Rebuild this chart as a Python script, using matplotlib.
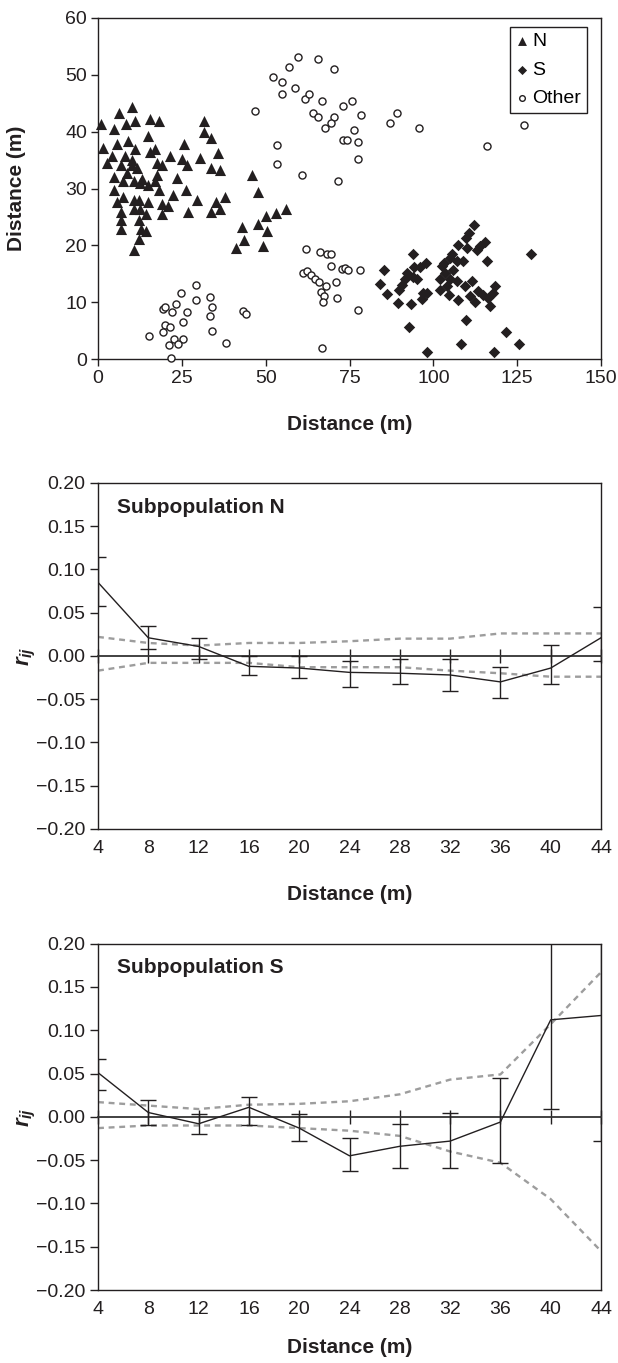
import numpy as np
import matplotlib.pyplot as plt

plt.rcParams['font.family'] = ['Liberation Sans', 'DejaVu Sans']
plt.rcParams['mathtext.fontset'] = 'custom'
plt.rcParams['mathtext.it'] = 'Liberation Sans:italic:bold'
plt.rcParams['mathtext.rm'] = 'Liberation Sans:bold'

# ---- spatial positions (m) ----
n_x = [10.0, 6.3, 0.8, 4.8, 8.3, 10.9, 15.5, 18.2, 31.7, 31.7, 33.7, 14.9, 1.4, 5.6, 8.9,
       10.9, 4.2, 8.1, 10.0, 15.5, 17.0, 21.5, 25.0, 25.7, 30.4, 35.7, 2.8, 6.9, 10.2, 11.5,
       17.5, 19.0, 26.5, 33.7, 36.4, 45.8, 4.9, 8.6, 17.5, 23.7, 13.2, 7.5, 10.8, 12.5, 15.0,
       17.0, 18.3, 22.3, 26.2, 29.6, 35.2, 37.8, 4.8, 7.5, 5.6, 10.8, 12.2, 15.0, 19.0, 21.0,
       10.8, 12.5, 6.9, 14.3, 19.0, 26.9, 33.7, 36.4, 6.9, 12.2, 12.8, 14.3, 6.9, 12.2, 10.8,
       47.8, 43.0, 43.6, 41.1, 49.1, 47.8, 50.1, 50.3, 53.0, 56.1]
n_y = [44.3, 43.3, 41.3, 40.5, 41.3, 41.8, 42.2, 41.8, 41.8, 39.9, 38.8, 39.2, 37.1, 37.9, 38.3,
       37.0, 35.8, 35.8, 35.1, 36.4, 37.0, 35.8, 35.2, 37.9, 35.4, 36.2, 34.5, 34.1, 34.1, 33.6,
       34.5, 34.1, 34.1, 33.6, 33.2, 32.4, 32.1, 32.7, 32.4, 31.9, 31.6, 31.4, 31.4, 31.0, 30.7,
       31.4, 29.7, 28.9, 29.7, 27.9, 27.6, 28.5, 29.7, 28.5, 27.6, 27.9, 27.9, 27.6, 27.3, 26.9,
       26.4, 26.4, 25.9, 25.6, 25.6, 25.9, 25.9, 26.4, 24.5, 24.5, 22.8, 22.6, 22.9, 21.1, 19.1,
       29.3, 23.3, 20.9, 19.5, 19.9, 23.8, 25.2, 22.6, 25.7, 26.4]

s_x = [112.2, 110.5, 109.8, 115.4, 113.9, 112.9, 107.5, 110.0, 129.0, 94.0, 115.9, 105.7, 104.9,
       103.2, 107.2, 108.9, 97.8, 96.0, 94.2, 85.4, 92.1, 93.9, 95.2, 91.6, 84.1, 90.6, 102.5,
       103.5, 106.0, 104.9, 102.0, 107.2, 109.4, 111.4, 118.4, 89.9, 86.1, 97.0, 98.2, 96.5,
       104.8, 107.5, 110.9, 112.4, 114.9, 116.4, 117.9, 116.9, 89.5, 93.4, 92.8, 109.7, 121.6,
       108.2, 125.6, 98.2, 118.2, 102.0, 104.0, 113.4]
s_y = [23.5, 22.2, 21.3, 20.5, 19.8, 19.2, 20.1, 19.5, 18.4, 18.4, 17.2, 18.5, 17.8,
       16.9, 17.2, 17.2, 16.9, 16.2, 16.2, 15.6, 15.1, 14.5, 14.0, 14.0, 13.2, 13.1, 16.3,
       15.1, 15.7, 14.0, 14.1, 13.7, 12.8, 13.7, 12.9, 12.2, 11.4, 11.6, 11.7, 10.6,
       11.3, 10.4, 11.1, 10.1, 11.3, 10.7, 11.6, 9.4, 9.9, 9.7, 5.6, 6.9, 4.7,
       2.6, 2.6, 1.2, 1.2, 12.2, 12.8, 11.9]

o_x = [59.5, 57.0, 65.6, 70.4, 52.1, 54.9, 54.9, 58.8, 61.6, 63.0, 66.9, 73.0, 75.6, 78.3,
       64.2, 65.6, 70.4, 69.6, 67.7, 76.4, 73.0, 74.4, 77.6, 87.1, 89.1, 95.8, 53.5, 53.5,
       60.8, 71.6, 77.6, 46.8, 127.1, 116.1,
       62.0, 61.1, 62.3, 63.5, 64.7, 66.2, 65.9, 66.5, 67.4, 68.0, 68.3, 69.5, 69.5, 71.0,
       71.3, 72.8, 73.7, 74.6, 78.1, 77.5, 66.8, 67.1,
       24.7, 29.3, 29.2, 33.4, 34.1, 33.3, 34.1, 38.1, 23.3, 22.0, 19.3, 20.0, 26.6, 25.3,
       20.0, 21.4, 19.3, 15.2, 22.7, 25.3, 21.3, 23.9, 21.9, 43.3, 44.1]
o_y = [53.1, 51.3, 52.7, 51.0, 49.6, 48.8, 46.7, 47.6, 45.8, 46.6, 45.4, 44.6, 45.4, 42.9,
       43.3, 42.5, 42.5, 41.5, 40.7, 40.3, 38.6, 38.6, 38.1, 41.6, 43.3, 40.7, 37.7, 34.3,
       32.3, 31.4, 35.2, 43.7, 41.1, 37.4,
       19.4, 15.2, 15.5, 14.8, 14.0, 18.9, 13.6, 11.8, 11.1, 12.9, 18.5, 18.5, 16.4, 13.6,
       10.8, 15.9, 16.1, 15.7, 15.7, 8.7, 2.0, 10.1,
       11.7, 13.0, 10.4, 10.9, 9.2, 7.5, 4.9, 2.8, 9.6, 8.3, 8.8, 9.1, 8.3, 6.6,
       5.9, 5.7, 4.8, 4.1, 3.6, 3.6, 2.4, 2.7, 0.2, 8.4, 7.9]

# ---- spatial autocorrelation ----
dist = np.array([4, 8, 12, 16, 20, 24, 28, 32, 36, 40, 44])

rN = np.array([0.085, 0.021, 0.011, -0.012, -0.014, -0.019, -0.020, -0.022, -0.030, -0.014, 0.021])
rN_hi = np.array([0.114, 0.035, 0.021, 0.000, 0.000, -0.006, -0.003, -0.003, -0.013, 0.013, 0.057])
rN_lo = np.array([0.058, 0.008, -0.003, -0.022, -0.025, -0.036, -0.033, -0.040, -0.049, -0.033, -0.006])
uN = [0.022, 0.015, 0.012, 0.015, 0.015, 0.017, 0.020, 0.020, 0.026, 0.026, 0.026]
lN = [-0.017, -0.008, -0.008, -0.008, -0.013, -0.013, -0.013, -0.017, -0.020, -0.024, -0.024]

rS = np.array([0.051, 0.005, -0.008, 0.011, -0.013, -0.045, -0.034, -0.028, -0.006, 0.112, 0.117])
rS_hi = np.array([0.067, 0.019, 0.003, 0.023, 0.003, -0.025, -0.008, 0.005, 0.045, 0.25, 0.25])
rS_lo = np.array([0.031, -0.009, -0.020, -0.009, -0.028, -0.062, -0.059, -0.059, -0.053, 0.009, -0.028])
uS = [0.017, 0.013, 0.009, 0.014, 0.015, 0.018, 0.026, 0.043, 0.049, 0.107, 0.167]
lS = [-0.013, -0.010, -0.010, -0.010, -0.013, -0.016, -0.022, -0.040, -0.053, -0.095, -0.155]

ink = '#231f20'

fig = plt.figure(figsize=(6.18, 13.63), dpi=100)

# top: map of individuals
ax1 = fig.add_axes([0.1586, 0.7366, 0.8139, 0.2502])
ax1.scatter(n_x, n_y, marker='^', s=64, color=ink, linewidths=0, label='N', clip_on=False, zorder=3)
ax1.scatter(s_x, s_y, marker='D', s=34, color=ink, linewidths=0, label='S', clip_on=False, zorder=3)
ax1.scatter(o_x, o_y, marker='o', s=26, facecolors='white', edgecolors=ink, linewidths=1.0,
            label='Other', clip_on=False, zorder=3)
ax1.set_xlim(0, 150)
ax1.set_ylim(0, 60)
ax1.set_xticks(np.arange(0, 151, 25))
ax1.set_yticks(np.arange(0, 61, 10))
ax1.tick_params(direction='out', length=5, width=1, labelsize=14, colors=ink, pad=3)
for sp in ax1.spines.values():
    sp.set_linewidth(1.0)
    sp.set_color(ink)
ax1.set_xlabel('Distance (m)', fontsize=15, fontweight='bold', labelpad=20, color=ink)
ax1.set_ylabel('Distance (m)', fontsize=15, fontweight='bold', color=ink)
ax1.yaxis.set_label_coords(-0.143, 0.5)
leg = ax1.legend(loc='upper right', bbox_to_anchor=(0.972, 0.974), borderaxespad=0, fontsize=14,
                 frameon=True, fancybox=False, framealpha=1, edgecolor=ink, markerscale=0.8,
                 handlelength=0.6, handletextpad=0.25, labelspacing=0.55, borderpad=0.3)
leg.get_frame().set_linewidth(1.0)


def fmt_r(v):
    return ('%.2f' % v).replace('-', '\u2212')


def corr_panel(ax, r, lo, hi, up, low, title, xpad):
    ax.plot(dist, up, color='#9d9d9d', lw=1.7, ls=(0, (2.5, 2)), zorder=2)
    ax.plot(dist, low, color='#9d9d9d', lw=1.7, ls=(0, (2.5, 2)), zorder=2)
    ax.errorbar(dist, r, yerr=[r - lo, hi - r], color=ink, lw=1.0, elinewidth=1.0,
                capsize=6, capthick=1.0, zorder=3)
    ax.set_xlim(4, 44)
    ax.set_ylim(-0.2, 0.2)
    yt = np.arange(-0.2, 0.201, 0.05)
    ax.set_yticks(yt)
    ax.set_yticklabels([fmt_r(v) if abs(v) > 1e-9 else '0.00' for v in yt])
    ax.set_xticks(dist)
    for sp in ax.spines.values():
        sp.set_linewidth(1.0)
        sp.set_color(ink)
    # category axis crosses at r = 0, labels stay at the bottom
    ax.spines['bottom'].set_position(('data', 0))
    ax.spines['bottom'].set_linewidth(1.3)
    ax.spines['bottom'].set_color('#333333')
    ax.tick_params(axis='x', direction='inout', length=10, width=1, labelbottom=False, colors=ink)
    ax.tick_params(axis='y', direction='out', length=6, width=1, labelsize=14, colors=ink, pad=3)
    sec = ax.secondary_xaxis(0)
    sec.set_xticks(dist)
    sec.tick_params(length=0, labelsize=14, pad=8, colors=ink)
    sec.spines['bottom'].set_linewidth(1.0)
    sec.spines['bottom'].set_color(ink)
    sec.set_xlabel('Distance (m)', fontsize=15, fontweight='bold', labelpad=xpad, color=ink)
    ax.set_ylabel('$r_{ij}$', fontsize=16, color=ink)
    ax.yaxis.set_label_coords(-0.12, 0.5)
    ax.text(0.038, 0.93, title, transform=ax.transAxes, fontsize=15, fontweight='bold',
            ha='left', va='center', color=ink)


ax2 = fig.add_axes([0.1586, 0.3918, 0.8139, 0.2539])
corr_panel(ax2, rN, rN_lo, rN_hi, uN, lN, 'Subpopulation N', 20)

ax3 = fig.add_axes([0.1586, 0.0535, 0.8139, 0.2542])
corr_panel(ax3, rS, rS_lo, rS_hi, uS, lS, 'Subpopulation S', 14)

fig.savefig('out.png', dpi=100)
